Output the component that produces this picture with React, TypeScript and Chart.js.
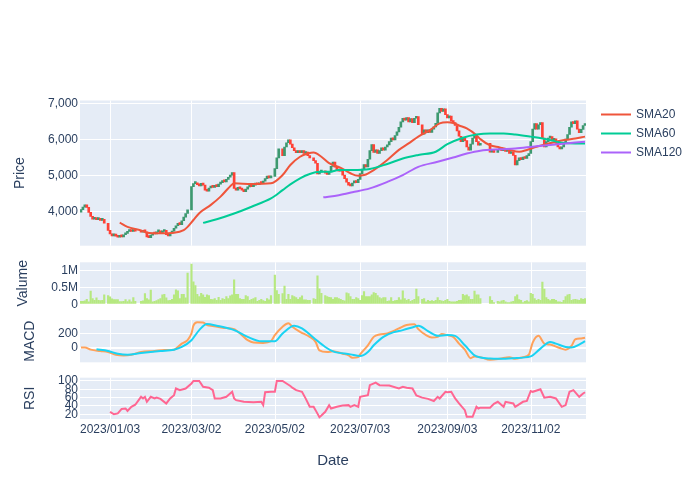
import React, { useEffect, useRef } from 'react';
import { Chart, registerables } from 'chart.js';

Chart.register(...registerables);

const FONT = '"Liberation Sans", Arial, sans-serif';
const TEXT = '#2a3f5f';
const PLOT_BG = '#E5ECF6';
const INC = '#3D9970';
const DEC = '#FF4136';
const C_SMA20 = '#EF553B';
const C_SMA60 = '#00CC96';
const C_SMA120 = '#AB63FA';
const C_VOL = '#B6E880';
const C_MACD = '#FFA15A';
const C_SIGNAL = '#19D3F3';
const C_RSI = '#FF6692';

Chart.defaults.font.family = FONT;

// ---------- calendar ----------
const START_DATE = '2022-12-13';
const END_DATE = '2023-12-12';
const HOLIDAYS = [
  '2022-12-30', '2023-01-23', '2023-01-24', '2023-03-01', '2023-05-01', '2023-05-05', '2023-05-29',
  '2023-06-06', '2023-08-15', '2023-09-28', '2023-09-29', '2023-10-02', '2023-10-03', '2023-10-09',
];

// ---------- daily candles (one value per trading day) ----------
const opens = [
  3990, 4060, 4130, 4190,
  4120, 3980, 3870, 3790, 3830,
  3780, 3810, 3760, 3790,
  3680, 3480, 3380, 3330, 3370,
  3320, 3290, 3330, 3300, 3360,
  3400, 3450, 3490, 3450, 3480,
  3460, 3430, 3460,
  3440, 3300, 3280, 3350, 3400,
  3380, 3440, 3470, 3410, 3450,
  3480, 3360, 3330, 3400, 3460,
  3540, 3610, 3680, 3640, 3750,
  3850, 3950, 4050, 4700,
  4780, 4800, 4750, 4720, 4790,
  4740, 4600, 4570, 4660, 4710,
  4680, 4730, 4700, 4770, 4810,
  4860, 4830, 4900, 4960, 5020,
  5090, 4650, 4600, 4680, 4640,
  4600, 4560, 4630, 4690, 4730,
  4700, 4740, 4780, 4750, 4800,
  4780, 4850, 4920, 4990, 4940,
  4980, 5200, 5500,
  5750, 5560, 5800, 5920, 6000,
  5880, 5780, 5700, 5640, 5700,
  5640, 5700, 5620, 5660, 5560,
  5500, 5420, 5350, 5050,
  5100, 5140, 5070, 5040,
  5110, 5260, 5380, 5240, 5170,
  5130, 5160, 5020, 4920, 4820,
  4740, 4720, 4800, 4860, 4810,
  4900, 5060, 5190, 5310, 5250,
  5460, 5700, 5870, 5650, 5720,
  5620, 5700, 5780, 5710, 5800,
  5860, 5950, 6050, 6000, 6120,
  6220, 6350, 6500, 6600, 6550,
  6620, 6500, 6590, 6480, 6600,
  6650, 6420, 6160, 6280,
  6200, 6280, 6210, 6300, 6360,
  6460, 6750, 6880, 6790, 6860,
  6700, 6610, 6660, 6520, 6480,
  6400, 6250, 6100, 5950, 6060,
  5980, 5800, 5710, 5880, 6050,
  6110, 5950, 5850,
  5900, 5660, 5710,
  5650, 5720, 5780, 5700,
  5750, 5680, 5720, 5620, 5650,
  5570, 5300, 5420, 5500, 5450,
  5520, 5480, 5560, 5620, 5950,
  6300, 6450, 6300, 6420, 6480,
  6050, 5800, 5950, 6050, 6090,
  5990, 6030, 5900, 5800, 5750,
  5800, 5900, 6020, 6150, 6350,
  6500, 6450, 6530, 6300, 6200,
  6290, 6400,
];

const closes = [
  4060, 4130, 4190, 4120,
  3980, 3870, 3790, 3830, 3780,
  3810, 3760, 3790, 3680,
  3480, 3380, 3330, 3370, 3320,
  3290, 3330, 3300, 3360, 3400,
  3450, 3490, 3450, 3480, 3460,
  3430, 3460, 3440,
  3300, 3280, 3350, 3400, 3380,
  3440, 3470, 3410, 3450, 3480,
  3360, 3330, 3400, 3460, 3540,
  3610, 3680, 3640, 3750, 3850,
  3950, 4050, 4700, 4780,
  4800, 4750, 4720, 4790, 4740,
  4600, 4570, 4660, 4710, 4680,
  4730, 4700, 4770, 4810, 4860,
  4830, 4900, 4960, 5020, 5090,
  4650, 4600, 4680, 4640, 4600,
  4560, 4630, 4690, 4730, 4700,
  4740, 4780, 4750, 4800, 4780,
  4850, 4920, 4990, 4940, 4980,
  5200, 5500, 5750,
  5560, 5800, 5920, 6000, 5880,
  5780, 5700, 5640, 5700, 5640,
  5700, 5620, 5660, 5560, 5500,
  5420, 5350, 5050, 5100,
  5140, 5070, 5040, 5110,
  5260, 5380, 5240, 5170, 5130,
  5160, 5020, 4920, 4820, 4740,
  4720, 4800, 4860, 4810, 4900,
  5060, 5190, 5310, 5250, 5460,
  5700, 5870, 5650, 5720, 5620,
  5700, 5780, 5710, 5800, 5860,
  5950, 6050, 6000, 6120, 6220,
  6350, 6500, 6600, 6550, 6620,
  6500, 6590, 6480, 6600, 6650,
  6420, 6160, 6280, 6200,
  6280, 6210, 6300, 6360, 6460,
  6750, 6880, 6790, 6860, 6700,
  6610, 6660, 6520, 6480, 6400,
  6250, 6100, 5950, 6060, 5980,
  5800, 5710, 5880, 6050, 6110,
  5950, 5850, 5900,
  5660, 5710, 5650,
  5720, 5780, 5700, 5750,
  5680, 5720, 5620, 5650, 5570,
  5300, 5420, 5500, 5450, 5520,
  5480, 5560, 5620, 5950, 6300,
  6450, 6300, 6420, 6480, 6050,
  5800, 5950, 6050, 6090, 5990,
  6030, 5900, 5800, 5750, 5800,
  5900, 6020, 6150, 6350, 6500,
  6450, 6530, 6300, 6200, 6290,
  6400, 6440,
];

const volumes = [
  90000, 90000, 100000, 150000, 70000, 390000, 170000, 120000, 190000, 120000,
  110000, 120000, 280000, 260000, 220000, 160000, 140000, 140000, 140000, 80000,
  80000, 90000, 140000, 80000, 130000, 70000, 200000, 90000, 90000, 100000,
  320000, 170000, 130000, 420000, 70000, 90000, 110000, 140000, 170000, 280000,
  300000, 190000, 110000, 120000, 150000, 280000, 430000, 400000, 170000, 300000,
  300000, 190000, 930000, 1200000, 670000, 560000, 300000, 230000, 330000, 280000,
  210000, 280000, 260000, 150000, 140000, 170000, 120000, 210000, 120000, 170000,
  150000, 230000, 170000, 250000, 280000, 730000, 300000, 300000, 170000, 150000,
  150000, 260000,
  230000, 120000, 150000, 170000, 200000, 90000, 120000, 150000, 110000, 90000,
  170000, 130000, 260000, 870000, 410000, 300000, 320000, 540000, 150000, 300000,
  150000, 260000, 230000, 200000, 150000, 200000, 250000, 130000, 130000, 120000,
  120000, 170000, 150000, 850000, 460000, 330000, 260000, 230000, 210000, 200000,
  150000, 200000, 200000, 170000, 150000, 120000, 100000, 340000, 320000, 230000,
  150000, 150000, 200000, 170000, 120000, 260000, 380000, 230000, 230000, 230000,
  280000, 350000, 330000, 260000, 200000, 170000, 200000, 200000, 90000, 100000,
  200000, 90000, 110000, 120000, 200000, 130000, 400000, 170000, 120000, 150000,
  90000, 120000, 150000, 450000,
  230000, 150000, 170000, 70000, 120000, 90000, 110000, 90000, 120000, 200000,
  120000, 100000, 90000, 120000, 150000, 90000, 70000, 70000, 70000, 90000,
  120000, 120000, 300000, 260000, 280000, 230000, 150000, 150000, 390000, 280000,
  280000, 170000, 230000, 120000, 50000, 90000, 70000, 100000, 120000, 70000,
  50000, 50000, 70000, 90000, 230000, 280000, 140000, 120000, 50000, 90000,
  110000, 70000, 330000, 300000, 170000, 120000, 150000, 120000, 660000, 450000,
  200000, 150000, 110000, 150000, 150000, 120000, 70000, 70000, 60000, 120000,
  230000, 280000, 300000, 120000, 140000, 150000, 130000, 120000, 170000, 150000,
  170000,
];

// ---------- moving averages ----------
const sma20Dates = [
  '2023-01-10', '2023-01-16', '2023-01-25', '2023-01-30', '2023-02-08', '2023-02-17', '2023-02-24', '2023-02-28',
  '2023-03-03', '2023-03-08', '2023-03-16', '2023-03-23', '2023-03-31', '2023-04-03', '2023-04-14', '2023-04-28',
  '2023-05-08', '2023-05-12', '2023-05-19', '2023-05-25', '2023-05-30', '2023-06-05', '2023-06-09', '2023-06-19',
  '2023-06-26', '2023-06-30', '2023-07-05', '2023-07-12', '2023-07-21', '2023-07-31', '2023-08-07', '2023-08-14',
  '2023-08-22', '2023-08-29', '2023-09-04', '2023-09-07', '2023-09-12', '2023-09-18', '2023-09-25', '2023-09-27',
  '2023-10-04', '2023-10-11', '2023-10-18', '2023-10-25', '2023-10-31', '2023-11-07', '2023-11-14', '2023-11-21',
  '2023-11-28', '2023-12-05', '2023-12-12',
];
const sma20Values = [
  3700, 3580, 3480, 3415, 3400, 3415, 3490, 3580,
  3770, 3960, 4190, 4420, 4760, 4790, 4770, 4790,
  5020, 5300, 5530, 5620, 5650, 5530, 5350, 5220,
  5070, 5000, 5020, 5160, 5440, 5720, 5900, 6090,
  6270, 6460, 6490, 6470, 6400, 6320, 6130, 6020,
  5850, 5790, 5720, 5670, 5720, 5810, 5880, 5950,
  6000, 6040, 6090,
];

const sma60Dates = [
  '2023-03-10', '2023-03-21', '2023-04-03', '2023-04-14', '2023-04-28', '2023-05-08', '2023-05-12', '2023-05-19',
  '2023-05-26', '2023-06-02', '2023-06-09', '2023-06-16', '2023-06-27', '2023-07-10', '2023-07-21', '2023-08-02',
  '2023-08-14', '2023-08-25', '2023-09-04', '2023-09-14', '2023-09-25', '2023-10-04', '2023-10-13', '2023-10-23',
  '2023-11-02', '2023-11-10', '2023-11-17', '2023-11-24', '2023-12-05', '2023-12-12',
];
const sma60Values = [
  3690, 3790, 3950, 4140, 4370, 4600, 4760, 4930,
  5050, 5110, 5110, 5160, 5160, 5190, 5330, 5480,
  5580, 5670, 5880, 6060, 6150, 6180, 6180, 6150,
  6090, 6040, 5980, 5920, 5900, 5900,
];

const sma120Dates = [
  '2023-06-06', '2023-06-16', '2023-06-27', '2023-07-10', '2023-07-21', '2023-08-02', '2023-08-14', '2023-08-28',
  '2023-09-07', '2023-09-18', '2023-09-27', '2023-10-11', '2023-10-23', '2023-11-03', '2023-11-16', '2023-11-28',
  '2023-12-12',
];
const sma120Values = [
  4400, 4460, 4540, 4650, 4830, 5020, 5250, 5390,
  5510, 5620, 5700, 5740, 5760, 5810, 5860, 5900,
  5950,
];

// ---------- MACD ----------
const macdDates = [
  '2022-12-13', '2022-12-15', '2022-12-20', '2022-12-27', '2023-01-02', '2023-01-06', '2023-01-12', '2023-01-18',
  '2023-01-25', '2023-02-03', '2023-02-10', '2023-02-17', '2023-02-20', '2023-02-23', '2023-02-28', '2023-03-02',
  '2023-03-03', '2023-03-07', '2023-03-10', '2023-03-14', '2023-03-17', '2023-03-24', '2023-04-03', '2023-04-07',
  '2023-04-12', '2023-04-17', '2023-04-24', '2023-04-28', '2023-05-02', '2023-05-08', '2023-05-11', '2023-05-15',
  '2023-05-19', '2023-05-26', '2023-05-31', '2023-06-02', '2023-06-08', '2023-06-13', '2023-06-20', '2023-06-23',
  '2023-06-27', '2023-06-30', '2023-07-03', '2023-07-07', '2023-07-12', '2023-07-17', '2023-07-21', '2023-07-26',
  '2023-07-31', '2023-08-04', '2023-08-10', '2023-08-14', '2023-08-18', '2023-08-23', '2023-08-28', '2023-08-30',
  '2023-09-04', '2023-09-07', '2023-09-12', '2023-09-15', '2023-09-20', '2023-09-22', '2023-09-27', '2023-10-04',
  '2023-10-11', '2023-10-18', '2023-10-23', '2023-10-27', '2023-11-01', '2023-11-03', '2023-11-08', '2023-11-13',
  '2023-11-16', '2023-11-23', '2023-11-28', '2023-12-01', '2023-12-05', '2023-12-08', '2023-12-12',
];
const macdValues = [
  5, 5, -23, -42, -56, -93, -102, -93,
  -56, -42, -28, -23, -9, 60, 107, 200,
  307, 353, 350, 316, 302, 279, 260, 177,
  107, 74, 70, 93, 177, 293, 340, 293,
  223, 153, 84, -33, -56, -46, -79, -102,
  -135, -126, -88, 37, 153, 186, 200, 232,
  270, 316, 325, 260, 177, 144, 153, 191,
  177, 153, 60, -23, -140, -116, -126, -163,
  -149, -126, -149, -126, -93, 74, 167, 60,
  47, 0, -23, 28, 121, 130, 140,
];

const signalDates = [
  '2022-12-23', '2023-01-02', '2023-01-09', '2023-01-16', '2023-01-25', '2023-02-08', '2023-02-17', '2023-02-23',
  '2023-03-02', '2023-03-08', '2023-03-14', '2023-03-21', '2023-04-03', '2023-04-12', '2023-04-21', '2023-05-02',
  '2023-05-08', '2023-05-16', '2023-05-22', '2023-05-30', '2023-06-07', '2023-06-13', '2023-06-26', '2023-07-03',
  '2023-07-07', '2023-07-12', '2023-07-19', '2023-07-26', '2023-08-02', '2023-08-10', '2023-08-14', '2023-08-21',
  '2023-08-28', '2023-09-04', '2023-09-08', '2023-09-15', '2023-09-22', '2023-09-27', '2023-10-04', '2023-10-10',
  '2023-10-20', '2023-11-02', '2023-11-09', '2023-11-16', '2023-11-21', '2023-11-28', '2023-12-01', '2023-12-07',
  '2023-12-12',
];
const signalValues = [
  -19, -42, -79, -93, -70, -42, -23, 14,
  107, 246, 330, 307, 246, 153, 93, 93,
  200, 307, 270, 140, 14, -46, -88, -112,
  -56, 37, 153, 214, 246, 293, 307, 232,
  167, 177, 167, 37, -102, -130, -145, -149,
  -140, -116, -9, 84, 60, 14, 8, 47,
  93,
];

// ---------- RSI ----------
const rsiDates = [
  '2023-01-03', '2023-01-05', '2023-01-09', '2023-01-11', '2023-01-13', '2023-01-16', '2023-01-18', '2023-01-20',
  '2023-01-25', '2023-01-26', '2023-01-27', '2023-01-30',
  '2023-02-01', '2023-02-03', '2023-02-06', '2023-02-08', '2023-02-13', '2023-02-15', '2023-02-17', '2023-02-20',
  '2023-02-22', '2023-02-27',
  '2023-03-02', '2023-03-03', '2023-03-08', '2023-03-10', '2023-03-15', '2023-03-17', '2023-03-20', '2023-03-23',
  '2023-03-28', '2023-03-31',
  '2023-04-03', '2023-04-04', '2023-04-10', '2023-04-17', '2023-04-21', '2023-04-24', '2023-04-25', '2023-04-28',
  '2023-05-02', '2023-05-03', '2023-05-08', '2023-05-10', '2023-05-12', '2023-05-15', '2023-05-17', '2023-05-22',
  '2023-05-24', '2023-05-26', '2023-05-30', '2023-05-31',
  '2023-06-02', '2023-06-05', '2023-06-07', '2023-06-09', '2023-06-12', '2023-06-15', '2023-06-20', '2023-06-23',
  '2023-06-26', '2023-06-28', '2023-06-30',
  '2023-07-03', '2023-07-07', '2023-07-10', '2023-07-13', '2023-07-17', '2023-07-24', '2023-07-31',
  '2023-08-02', '2023-08-04', '2023-08-09', '2023-08-11', '2023-08-16', '2023-08-21', '2023-08-24', '2023-08-28',
  '2023-08-29',
  '2023-09-01', '2023-09-04', '2023-09-06', '2023-09-08', '2023-09-12', '2023-09-15', '2023-09-18', '2023-09-21',
  '2023-09-25', '2023-09-26', '2023-09-27',
  '2023-10-04', '2023-10-06', '2023-10-10', '2023-10-13', '2023-10-16', '2023-10-20', '2023-10-23', '2023-10-27',
  '2023-10-31',
  '2023-11-02', '2023-11-03', '2023-11-09', '2023-11-13', '2023-11-16', '2023-11-21', '2023-11-24', '2023-11-28',
  '2023-11-30',
  '2023-12-04', '2023-12-07', '2023-12-11', '2023-12-12',
];
const rsiValues = [
  26, 20, 22, 33, 34, 28, 38, 43, 62, 58, 62, 50,
  62, 58, 60, 57, 46, 58, 66, 82, 78, 82,
  94, 100, 100, 86, 84, 78, 58, 58, 62, 74,
  58, 54, 50, 49, 50, 42, 73, 74,
  74, 100, 100, 94, 88, 84, 78, 74, 57, 38, 38, 30,
  13, 17, 26, 42, 34, 38, 41, 42, 38, 42, 38,
  62, 66, 90, 96, 90, 89, 82,
  86, 84, 82, 65, 60, 57, 52, 62, 58,
  74, 73, 74, 58, 46, 30, 14, 14, 38, 34, 36,
  36, 45, 50, 38, 50, 46, 38, 50, 52,
  76, 74, 80, 60, 62, 58, 38, 42, 74,
  78, 62, 70, 73,
];

// ---------- axis ticks ----------
const xTickDates = ['2023-01-03', '2023-03-02', '2023-05-02', '2023-07-03', '2023-09-03', '2023-11-02'];
const xTickLabels = ['2023/01/03', '2023/03/02', '2023/05/02', '2023/07/03', '2023/09/03', '2023/11/02'];
const priceTicks = [4000, 5000, 6000, 7000];
const volumeTicks = [0, 500000, 1000000];
const volumeTickLabels = ['0', '0.5M', '1M'];
const macdTicks = [0, 200];
const rsiTicks = [20, 40, 60, 80, 100];

// ---------- helpers (weekend-collapsed date axis) ----------
const DAY = 86400000;
const toUTC = (s: string) => {
  const [y, m, d] = s.split('-').map(Number);
  return Date.UTC(y, m - 1, d);
};
const START_UTC = toUTC(START_DATE);
const slotCache = new Map<string, number>();
function slot(s: string): number {
  const hit = slotCache.get(s);
  if (hit !== undefined) return hit;
  const t = toUTC(s);
  let n = 0;
  for (let u = START_UTC; u < t; u += DAY) {
    const wd = new Date(u).getUTCDay();
    if (wd !== 0 && wd !== 6) n++;
  }
  slotCache.set(s, n);
  return n;
}
function buildTradingDates(): string[] {
  const out: string[] = [];
  const end = toUTC(END_DATE);
  for (let u = START_UTC; u <= end; u += DAY) {
    const dt = new Date(u);
    const wd = dt.getUTCDay();
    const s = dt.toISOString().slice(0, 10);
    if (wd !== 0 && wd !== 6 && !HOLIDAYS.includes(s)) out.push(s);
  }
  return out;
}
const series = (dates: string[], values: number[]) => dates.map((d, i) => ({ x: slot(d), y: values[i] }));

const fixedWidth = (s: any) => {
  s.width = 80;
};
const setTicks = (vals: number[]) => (s: any) => {
  s.ticks = vals.map((v) => ({ value: v }));
};

function yAxis(weight: number, min: number, max: number, ticks: number[], label: string, titlePad: number, cb: any) {
  return {
    type: 'linear',
    position: 'left',
    stack: 'panels',
    stackWeight: weight,
    min,
    max,
    afterBuildTicks: setTicks(ticks),
    afterFit: fixedWidth,
    grid: {
      color: '#ffffff',
      lineWidth: (c: any) => (c.tick && c.tick.value === 0 ? 2 : 1),
      drawTicks: false,
    },
    border: { display: false },
    ticks: {
      color: TEXT,
      font: { family: FONT, size: 12 },
      padding: 2,
      autoSkip: false,
      callback: cb,
    },
    title: {
      display: true,
      text: label,
      color: TEXT,
      font: { family: FONT, size: 14 },
      padding: { top: titlePad, bottom: 0 },
    },
  };
}
function gapAxis(weight: number) {
  return {
    type: 'linear',
    position: 'left',
    stack: 'panels',
    stackWeight: weight,
    afterFit: fixedWidth,
    grid: { display: false, drawTicks: false },
    border: { display: false },
    ticks: { display: false },
  };
}

const panelPlugin = {
  id: 'panelDecor',
  beforeDraw(chart: any) {
    const { ctx, chartArea, scales } = chart;
    const xs = scales.x;
    ctx.save();
    ['yPrice', 'yVol', 'yMacd', 'yRsi'].forEach((id) => {
      const s = scales[id];
      ctx.fillStyle = PLOT_BG;
      ctx.fillRect(chartArea.left, s.top, chartArea.right - chartArea.left, s.bottom - s.top);
      ctx.strokeStyle = '#ffffff';
      ctx.lineWidth = 1;
      xs.ticks.forEach((t: any) => {
        const px = Math.round(xs.getPixelForValue(t.value)) + 0.5;
        ctx.beginPath();
        ctx.moveTo(px, s.top);
        ctx.lineTo(px, s.bottom);
        ctx.stroke();
      });
    });
    ctx.restore();
  },
  afterDraw(chart: any) {
    const { ctx, chartArea } = chart;
    const items = chart.data.datasets.filter((d: any) => d.inLegend);
    ctx.save();
    items.forEach((d: any, i: number) => {
      const y = chartArea.top + 14 + i * 19;
      const x0 = chartArea.right + 15;
      ctx.strokeStyle = d.borderColor;
      ctx.lineWidth = 2;
      ctx.beginPath();
      ctx.moveTo(x0, y);
      ctx.lineTo(x0 + 30, y);
      ctx.stroke();
      ctx.fillStyle = TEXT;
      ctx.font = `12px ${FONT}`;
      ctx.textBaseline = 'middle';
      ctx.textAlign = 'left';
      ctx.fillText(d.label, x0 + 35, y);
    });
    ctx.restore();
  },
};

export default function App() {
  const canvasRef = useRef<HTMLCanvasElement | null>(null);

  useEffect(() => {
    const canvas = canvasRef.current;
    if (!canvas) return;
    const tradingDates = buildTradingDates();
    const n = Math.min(tradingDates.length, opens.length, closes.length);
    const candleData: any[] = [];
    const candleColors: string[] = [];
    const volumeData: any[] = [];
    for (let i = 0; i < n; i++) {
      const x = slot(tradingDates[i]);
      candleData.push({ x, y: [opens[i], closes[i]] });
      candleColors.push(closes[i] >= opens[i] ? INC : DEC);
      volumeData.push({ x, y: volumes[i] });
    }

    const lineBase = { type: 'line', pointRadius: 0, borderWidth: 2, fill: false, spanGaps: true };

    const chart = new Chart(canvas, {
      type: 'bar',
      data: {
        datasets: [
          {
            type: 'bar',
            label: 'Candles',
            data: candleData,
            backgroundColor: candleColors,
            borderWidth: 0,
            barThickness: 2,
            minBarLength: 2,
            grouped: false,
            yAxisID: 'yPrice',
            order: 10,
          },
          {
            ...lineBase,
            label: 'SMA20',
            data: series(sma20Dates, sma20Values),
            borderColor: C_SMA20,
            cubicInterpolationMode: 'monotone',
            yAxisID: 'yPrice',
            order: 3,
            inLegend: true,
          },
          {
            ...lineBase,
            label: 'SMA60',
            data: series(sma60Dates, sma60Values),
            borderColor: C_SMA60,
            cubicInterpolationMode: 'monotone',
            yAxisID: 'yPrice',
            order: 2,
            inLegend: true,
          },
          {
            ...lineBase,
            label: 'SMA120',
            data: series(sma120Dates, sma120Values),
            borderColor: C_SMA120,
            cubicInterpolationMode: 'monotone',
            yAxisID: 'yPrice',
            order: 1,
            inLegend: true,
          },
          {
            type: 'bar',
            label: 'Valume',
            data: volumeData,
            backgroundColor: C_VOL,
            borderWidth: 0,
            barThickness: 1.5,
            grouped: false,
            yAxisID: 'yVol',
            order: 10,
          },
          {
            ...lineBase,
            label: 'MACD',
            data: series(macdDates, macdValues),
            borderColor: C_MACD,
            cubicInterpolationMode: 'monotone',
            yAxisID: 'yMacd',
            order: 3,
          },
          {
            ...lineBase,
            label: 'Signal',
            data: series(signalDates, signalValues),
            borderColor: C_SIGNAL,
            cubicInterpolationMode: 'monotone',
            yAxisID: 'yMacd',
            order: 2,
          },
          {
            ...lineBase,
            label: 'RSI',
            data: series(rsiDates, rsiValues),
            borderColor: C_RSI,
            tension: 0,
            yAxisID: 'yRsi',
            order: 2,
          },
        ] as any,
      },
      options: {
        responsive: false,
        animation: false,
        events: [],
        layout: { padding: { top: 100.5, right: 114, bottom: 0, left: 0 } },
        plugins: {
          legend: { display: false },
          tooltip: { enabled: false },
          title: { display: false },
        },
        scales: {
          x: {
            type: 'linear',
            position: 'bottom',
            offset: false,
            min: slot(START_DATE) - 0.5,
            max: slot(END_DATE) + 0.5,
            afterBuildTicks: (s: any) => {
              s.ticks = xTickDates.map((d) => ({ value: slot(d) }));
            },
            afterFit: (s: any) => {
              s.height = 81;
            },
            grid: { display: false, drawTicks: false, offset: false },
            border: { display: false },
            ticks: {
              color: TEXT,
              font: { family: FONT, size: 12 },
              padding: 3,
              maxRotation: 0,
              autoSkip: false,
              callback: (_v: any, i: number) => xTickLabels[i],
            },
            title: {
              display: true,
              text: 'Date',
              color: TEXT,
              font: { family: FONT, size: 15 },
              padding: { top: 4, bottom: 30 },
            },
          },
          yRsi: yAxis(41.3, 8.7, 107.9, rsiTicks, 'RSI', 21.6, (v: any) => String(v)),
          gap3: gapAxis(15.4),
          yMacd: yAxis(42.3, -197, 385, macdTicks, 'MACD', 21.6, (v: any) => String(v)),
          gap2: gapAxis(15.7),
          yVol: yAxis(42, 0, 1250000, volumeTicks, 'Valume', 14.6, (_v: any, i: number) => volumeTickLabels[i]),
          gap1: gapAxis(16.6),
          yPrice: yAxis(145.2, 3055, 7095, priceTicks, 'Price', 11.6, (v: any) => Number(v).toLocaleString('en-US')),
        } as any,
      },
      plugins: [panelPlugin],
    } as any);

    return () => {
      chart.destroy();
    };
  }, []);

  return (
    <div style={{ position: 'absolute', left: 0, top: 0, width: 700, height: 500, background: '#ffffff' }}>
      <canvas ref={canvasRef} width={700} height={500} style={{ display: 'block', width: 700, height: 500 }} />
    </div>
  );
}
